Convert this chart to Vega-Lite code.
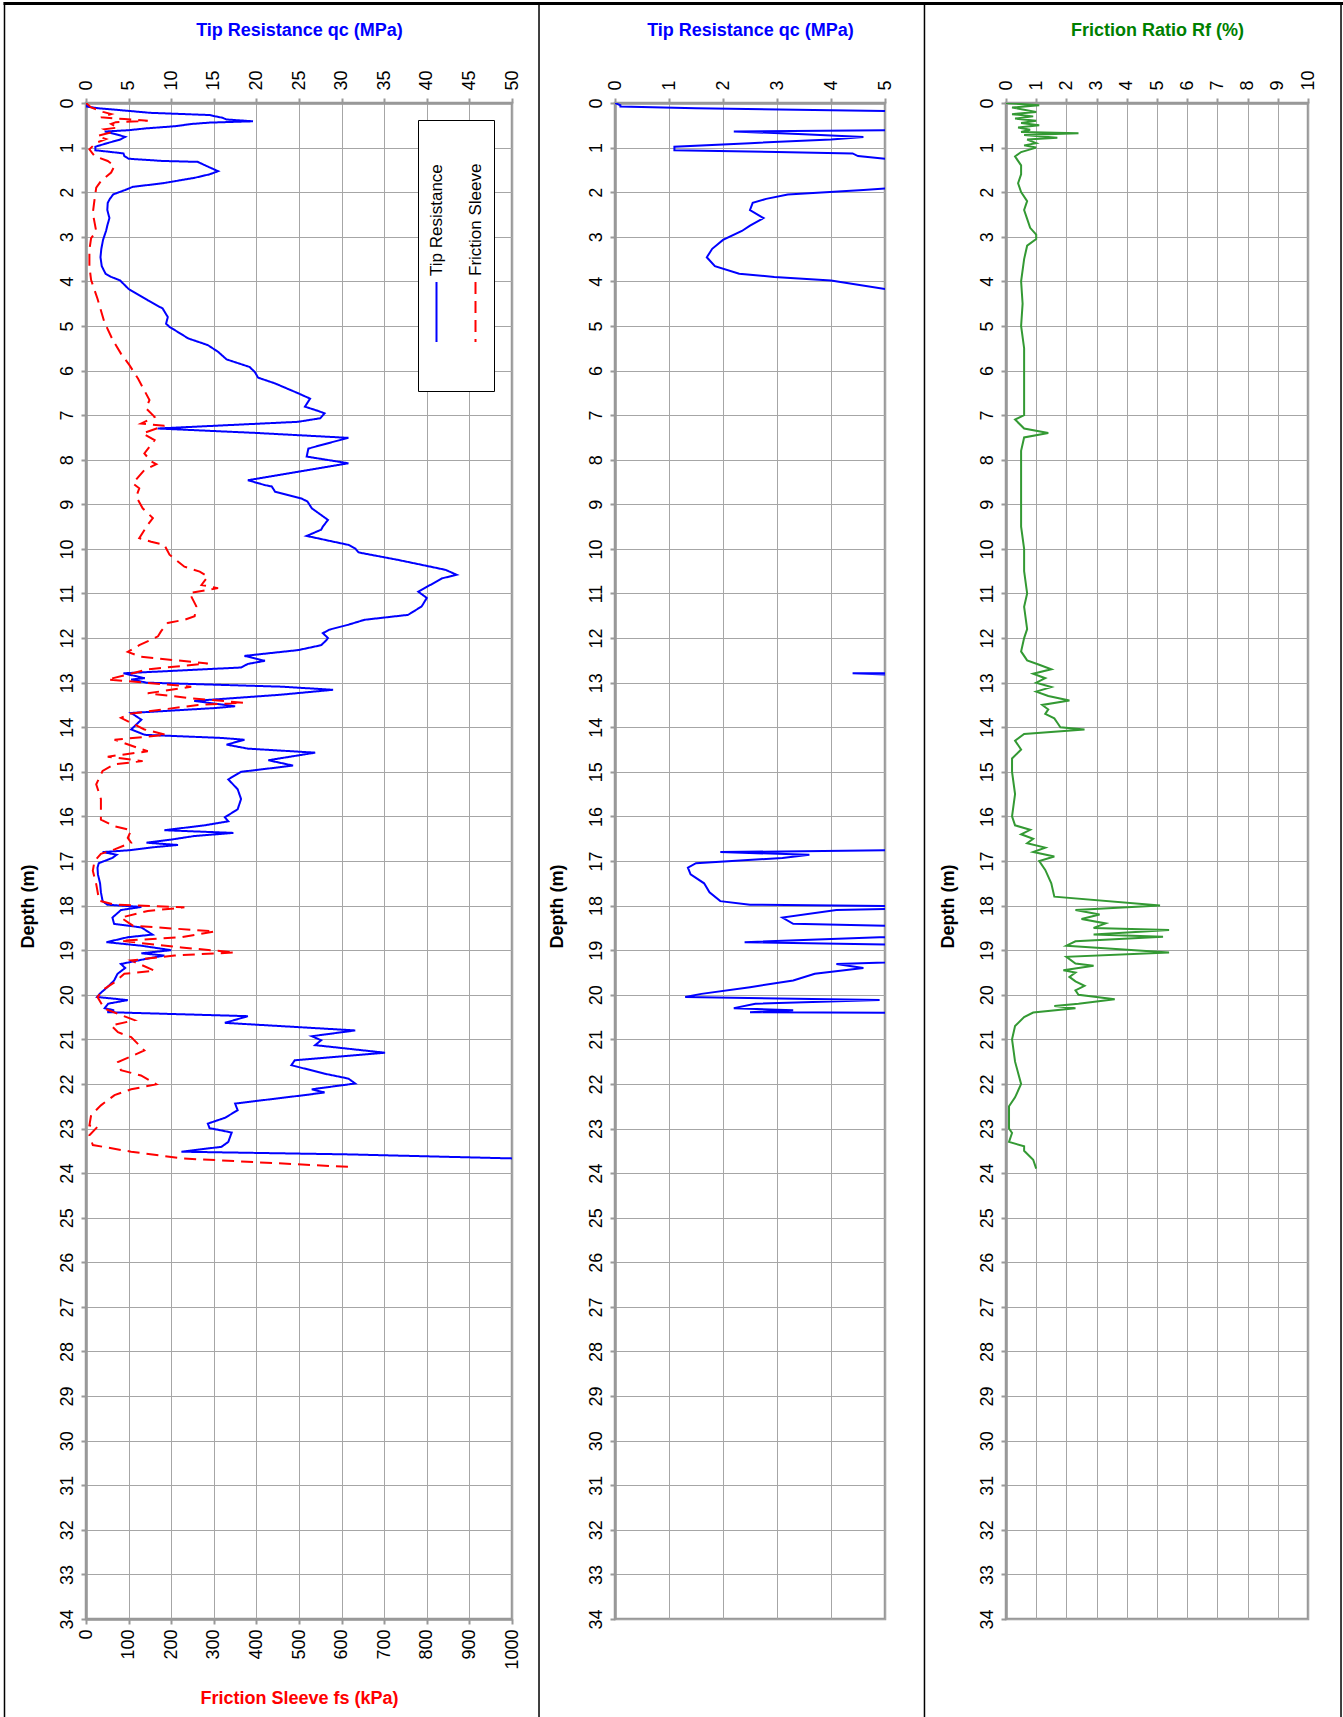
{
"$schema": "https://vega.github.io/schema/vega-lite/v6.json",
"padding": 0,
"background": "white",
"config": {
  "font": "Liberation Sans",
  "view": {"stroke": "#999999", "strokeWidth": 2.5},
  "axis": {
    "grid": true, "gridColor": "#a6a6a6", "gridWidth": 1,
    "domainColor": "#999999", "domainWidth": 2.5,
    "tickColor": "#999999", "tickWidth": 2, "tickSize": 5,
    "labelFont": "Liberation Sans", "labelFontSize": 18, "labelColor": "#000000", "labelAngle": -90, "labelPadding": 5, "labelOverlap": false, "labelFlush": false,
    "titleFont": "Liberation Sans", "titleFontSize": 18, "titleFontWeight": "bold"
  }
},
"datasets": {
  "qc": [
    {"depth":0,"qc":0},{"depth":0.05,"qc":0.1},{"depth":0.08,"qc":0.1},{"depth":0.12,"qc":1.5},{"depth":0.16,"qc":4.0},{"depth":0.22,"qc":7.5},{"depth":0.27,"qc":14.5},{"depth":0.3,"qc":15.2},{"depth":0.33,"qc":16.0},{"depth":0.37,"qc":16.5},{"depth":0.41,"qc":19.6},{"depth":0.44,"qc":14.5},{"depth":0.47,"qc":12.4},{"depth":0.52,"qc":10.5},{"depth":0.57,"qc":7.0},{"depth":0.61,"qc":5.0},{"depth":0.64,"qc":2.2},{"depth":0.7,"qc":3.5},{"depth":0.76,"qc":4.6},{"depth":0.82,"qc":4.0},{"depth":0.9,"qc":2.5},{"depth":0.98,"qc":1.1},{"depth":1.06,"qc":1.1},{"depth":1.1,"qc":3.0},{"depth":1.13,"qc":4.4},{"depth":1.19,"qc":4.5},{"depth":1.25,"qc":5.0},{"depth":1.3,"qc":9.0},{"depth":1.32,"qc":13.1},{"depth":1.4,"qc":14.0},{"depth":1.53,"qc":15.5},{"depth":1.6,"qc":14.5},{"depth":1.68,"qc":12.7},{"depth":1.8,"qc":9.0},{"depth":1.88,"qc":5.5},{"depth":1.95,"qc":4.6},{"depth":2.05,"qc":3.2},{"depth":2.15,"qc":2.8},{"depth":2.24,"qc":2.55},{"depth":2.4,"qc":2.5},{"depth":2.58,"qc":2.75},{"depth":2.75,"qc":2.5},{"depth":2.87,"qc":2.35},{"depth":3.07,"qc":2.0},{"depth":3.27,"qc":1.8},{"depth":3.46,"qc":1.7},{"depth":3.66,"qc":1.85},{"depth":3.83,"qc":2.3},{"depth":3.9,"qc":2.95},{"depth":3.98,"qc":4.0},{"depth":4.17,"qc":5.0},{"depth":4.43,"qc":7.3},{"depth":4.61,"qc":9.0},{"depth":4.8,"qc":9.6},{"depth":4.95,"qc":9.4},{"depth":5.02,"qc":9.8},{"depth":5.28,"qc":12.0},{"depth":5.43,"qc":14.3},{"depth":5.58,"qc":15.5},{"depth":5.75,"qc":16.5},{"depth":5.92,"qc":19.2},{"depth":6.03,"qc":19.8},{"depth":6.16,"qc":20.2},{"depth":6.29,"qc":22.2},{"depth":6.51,"qc":24.9},{"depth":6.63,"qc":26.3},{"depth":6.72,"qc":26.0},{"depth":6.81,"qc":25.7},{"depth":6.91,"qc":27.3},{"depth":6.96,"qc":28.0},{"depth":7.07,"qc":27.5},{"depth":7.15,"qc":24.9},{"depth":7.3,"qc":8.4},{"depth":7.4,"qc":20.0},{"depth":7.51,"qc":30.8},{"depth":7.6,"qc":29.0},{"depth":7.75,"qc":26.1},{"depth":7.93,"qc":25.9},{"depth":8.08,"qc":30.8},{"depth":8.17,"qc":28.0},{"depth":8.27,"qc":24.9},{"depth":8.46,"qc":19.0},{"depth":8.57,"qc":21.0},{"depth":8.6,"qc":21.8},{"depth":8.72,"qc":22.2},{"depth":8.87,"qc":25.3},{"depth":8.94,"qc":26.0},{"depth":9.09,"qc":26.5},{"depth":9.35,"qc":28.4},{"depth":9.5,"qc":27.8},{"depth":9.57,"qc":27.6},{"depth":9.71,"qc":25.9},{"depth":9.91,"qc":30.8},{"depth":9.99,"qc":31.6},{"depth":10.08,"qc":32.0},{"depth":10.25,"qc":36.7},{"depth":10.47,"qc":42.2},{"depth":10.58,"qc":43.5},{"depth":10.66,"qc":41.8},{"depth":10.96,"qc":39.0},{"depth":11.1,"qc":40.0},{"depth":11.29,"qc":39.4},{"depth":11.48,"qc":37.8},{"depth":11.59,"qc":32.7},{"depth":11.7,"qc":30.8},{"depth":11.81,"qc":28.6},{"depth":11.89,"qc":27.8},{"depth":12.0,"qc":28.4},{"depth":12.05,"qc":28.2},{"depth":12.16,"qc":27.6},{"depth":12.27,"qc":24.9},{"depth":12.4,"qc":18.6},{"depth":12.51,"qc":21.0},{"depth":12.58,"qc":19.0},{"depth":12.66,"qc":18.2},{"depth":12.79,"qc":4.4},{"depth":12.9,"qc":6.9},{"depth":12.93,"qc":5.3},{"depth":13.0,"qc":7.1},{"depth":13.09,"qc":22.9},{"depth":13.16,"qc":29.0},{"depth":13.27,"qc":22.9},{"depth":13.41,"qc":12.7},{"depth":13.53,"qc":17.5},{"depth":13.57,"qc":15.1},{"depth":13.68,"qc":5.3},{"depth":13.83,"qc":6.5},{"depth":14.05,"qc":5.3},{"depth":14.17,"qc":6.9},{"depth":14.24,"qc":15.9},{"depth":14.28,"qc":18.6},{"depth":14.39,"qc":16.5},{"depth":14.48,"qc":19.0},{"depth":14.57,"qc":26.9},{"depth":14.74,"qc":21.4},{"depth":14.86,"qc":24.3},{"depth":15.0,"qc":18.2},{"depth":15.17,"qc":16.7},{"depth":15.39,"qc":17.8},{"depth":15.61,"qc":18.2},{"depth":15.84,"qc":17.8},{"depth":16.02,"qc":16.3},{"depth":16.11,"qc":16.7},{"depth":16.2,"qc":13.9},{"depth":16.31,"qc":9.2},{"depth":16.37,"qc":17.3},{"depth":16.44,"qc":12.7},{"depth":16.52,"qc":10.0},{"depth":16.59,"qc":7.1},{"depth":16.64,"qc":10.8},{"depth":16.69,"qc":8.0},{"depth":16.76,"qc":5.0},{"depth":16.8,"qc":1.95},{"depth":16.86,"qc":3.6},{"depth":16.93,"qc":3.1},{"depth":17.05,"qc":1.5},{"depth":17.15,"qc":1.35},{"depth":17.3,"qc":1.4},{"depth":17.5,"qc":1.65},{"depth":17.7,"qc":1.75},{"depth":17.9,"qc":1.95},{"depth":17.98,"qc":2.5},{"depth":18.03,"qc":6.5},{"depth":18.1,"qc":4.1},{"depth":18.27,"qc":3.1},{"depth":18.41,"qc":3.3},{"depth":18.49,"qc":6.5},{"depth":18.65,"qc":7.8},{"depth":18.71,"qc":4.9},{"depth":18.82,"qc":2.4},{"depth":18.9,"qc":6.5},{"depth":19.0,"qc":10.0},{"depth":19.07,"qc":6.5},{"depth":19.12,"qc":9.2},{"depth":19.2,"qc":6.9},{"depth":19.31,"qc":4.1},{"depth":19.4,"qc":4.6},{"depth":19.53,"qc":3.7},{"depth":19.68,"qc":3.3},{"depth":19.83,"qc":2.5},{"depth":19.98,"qc":1.6},{"depth":20.05,"qc":1.3},{"depth":20.12,"qc":4.9},{"depth":20.2,"qc":2.6},{"depth":20.3,"qc":2.2},{"depth":20.35,"qc":3.3},{"depth":20.39,"qc":2.5},{"depth":20.48,"qc":19.0},{"depth":20.63,"qc":16.3},{"depth":20.8,"qc":31.6},{"depth":20.93,"qc":26.5},{"depth":21.02,"qc":27.6},{"depth":21.13,"qc":26.9},{"depth":21.3,"qc":35.1},{"depth":21.47,"qc":24.5},{"depth":21.58,"qc":24.1},{"depth":21.77,"qc":28.0},{"depth":21.88,"qc":30.8},{"depth":21.99,"qc":31.6},{"depth":22.12,"qc":26.5},{"depth":22.19,"qc":28.0},{"depth":22.24,"qc":26.1},{"depth":22.44,"qc":17.5},{"depth":22.59,"qc":17.8},{"depth":22.76,"qc":16.3},{"depth":22.89,"qc":14.3},{"depth":22.99,"qc":14.5},{"depth":23.09,"qc":17.1},{"depth":23.3,"qc":16.7},{"depth":23.41,"qc":15.9},{"depth":23.52,"qc":11.2},{"depth":23.58,"qc":30.8},{"depth":23.67,"qc":50.0},{"depth":23.72,"qc":55.0}
  ],
  "fs": [
    {"depth":0,"fs":0},{"depth":0.1,"fs":12},{"depth":0.2,"fs":40},{"depth":0.25,"fs":59},{"depth":0.32,"fs":35},{"depth":0.36,"fs":90},{"depth":0.4,"fs":145},{"depth":0.43,"fs":70},{"depth":0.47,"fs":59},{"depth":0.55,"fs":75},{"depth":0.59,"fs":43},{"depth":0.66,"fs":59},{"depth":0.74,"fs":27},{"depth":0.81,"fs":47},{"depth":0.89,"fs":24},{"depth":1.04,"fs":8},{"depth":1.19,"fs":20},{"depth":1.3,"fs":51},{"depth":1.41,"fs":67},{"depth":1.56,"fs":59},{"depth":1.75,"fs":35},{"depth":1.9,"fs":24},{"depth":2.17,"fs":20},{"depth":2.47,"fs":16},{"depth":2.88,"fs":24},{"depth":3.03,"fs":12},{"depth":3.29,"fs":8},{"depth":3.67,"fs":8},{"depth":3.97,"fs":12},{"depth":4.39,"fs":27},{"depth":4.91,"fs":43},{"depth":5.32,"fs":63},{"depth":5.62,"fs":82},{"depth":5.88,"fs":102},{"depth":6.18,"fs":122},{"depth":6.66,"fs":149},{"depth":6.85,"fs":141},{"depth":7.04,"fs":161},{"depth":7.19,"fs":129},{"depth":7.24,"fs":184},{"depth":7.41,"fs":133},{"depth":7.56,"fs":161},{"depth":7.86,"fs":137},{"depth":8.04,"fs":153},{"depth":8.1,"fs":165},{"depth":8.23,"fs":137},{"depth":8.53,"fs":110},{"depth":8.64,"fs":125},{"depth":8.83,"fs":118},{"depth":9.09,"fs":133},{"depth":9.31,"fs":157},{"depth":9.46,"fs":145},{"depth":9.76,"fs":125},{"depth":9.84,"fs":153},{"depth":9.91,"fs":184},{"depth":10.13,"fs":196},{"depth":10.4,"fs":231},{"depth":10.51,"fs":267},{"depth":10.62,"fs":286},{"depth":10.81,"fs":271},{"depth":10.88,"fs":310},{"depth":10.99,"fs":243},{"depth":11.29,"fs":259},{"depth":11.51,"fs":255},{"depth":11.59,"fs":231},{"depth":11.66,"fs":192},{"depth":11.85,"fs":176},{"depth":11.96,"fs":169},{"depth":12.05,"fs":150},{"depth":12.16,"fs":125},{"depth":12.31,"fs":98},{"depth":12.42,"fs":129},{"depth":12.57,"fs":286},{"depth":12.7,"fs":145},{"depth":12.93,"fs":51},{"depth":13.09,"fs":247},{"depth":13.24,"fs":145},{"depth":13.35,"fs":247},{"depth":13.45,"fs":369},{"depth":13.5,"fs":263},{"depth":13.7,"fs":102},{"depth":13.79,"fs":82},{"depth":14.05,"fs":137},{"depth":14.17,"fs":188},{"depth":14.28,"fs":67},{"depth":14.54,"fs":145},{"depth":14.66,"fs":51},{"depth":14.76,"fs":133},{"depth":14.83,"fs":67},{"depth":14.98,"fs":39},{"depth":15.28,"fs":24},{"depth":15.61,"fs":35},{"depth":15.98,"fs":35},{"depth":16.07,"fs":35},{"depth":16.22,"fs":67},{"depth":16.31,"fs":106},{"depth":16.48,"fs":98},{"depth":16.59,"fs":106},{"depth":16.74,"fs":67},{"depth":16.84,"fs":35},{"depth":17.0,"fs":20},{"depth":17.22,"fs":16},{"depth":17.52,"fs":24},{"depth":17.89,"fs":31},{"depth":17.98,"fs":67},{"depth":18.04,"fs":231},{"depth":18.12,"fs":145},{"depth":18.27,"fs":82},{"depth":18.45,"fs":110},{"depth":18.58,"fs":302},{"depth":18.71,"fs":224},{"depth":18.79,"fs":82},{"depth":18.94,"fs":224},{"depth":19.05,"fs":349},{"depth":19.12,"fs":208},{"depth":19.23,"fs":106},{"depth":19.46,"fs":161},{"depth":19.53,"fs":90},{"depth":19.72,"fs":67},{"depth":19.87,"fs":43},{"depth":20.05,"fs":27},{"depth":20.31,"fs":43},{"depth":20.57,"fs":114},{"depth":20.69,"fs":59},{"depth":20.84,"fs":75},{"depth":20.95,"fs":106},{"depth":21.25,"fs":137},{"depth":21.51,"fs":75},{"depth":21.69,"fs":82},{"depth":21.81,"fs":129},{"depth":22.01,"fs":165},{"depth":22.12,"fs":106},{"depth":22.25,"fs":67},{"depth":22.48,"fs":35},{"depth":22.7,"fs":12},{"depth":22.93,"fs":8},{"depth":22.96,"fs":27},{"depth":23.15,"fs":8},{"depth":23.37,"fs":16},{"depth":23.52,"fs":106},{"depth":23.67,"fs":224},{"depth":23.86,"fs":616}
  ],
  "rf": [
    {"depth":0,"rf":0},{"depth":0.05,"rf":1.1},{"depth":0.1,"rf":0.2},{"depth":0.2,"rf":1.0},{"depth":0.25,"rf":0.2},{"depth":0.3,"rf":0.9},{"depth":0.35,"rf":0.3},{"depth":0.4,"rf":1.0},{"depth":0.45,"rf":0.5},{"depth":0.5,"rf":1.1},{"depth":0.55,"rf":0.4},{"depth":0.6,"rf":0.8},{"depth":0.65,"rf":0.5},{"depth":0.68,"rf":2.4},{"depth":0.72,"rf":0.6},{"depth":0.78,"rf":1.7},{"depth":0.82,"rf":0.7},{"depth":0.9,"rf":1.0},{"depth":0.95,"rf":0.6},{"depth":1.0,"rf":1.0},{"depth":1.1,"rf":0.5},{"depth":1.2,"rf":0.3},{"depth":1.4,"rf":0.5},{"depth":1.6,"rf":0.5},{"depth":1.8,"rf":0.4},{"depth":2.0,"rf":0.5},{"depth":2.2,"rf":0.7},{"depth":2.4,"rf":0.6},{"depth":2.6,"rf":0.7},{"depth":2.8,"rf":0.8},{"depth":2.95,"rf":1.0},{"depth":3.05,"rf":1.0},{"depth":3.2,"rf":0.7},{"depth":3.5,"rf":0.6},{"depth":4.0,"rf":0.5},{"depth":4.5,"rf":0.55},{"depth":5.0,"rf":0.5},{"depth":5.5,"rf":0.6},{"depth":6.0,"rf":0.6},{"depth":6.5,"rf":0.6},{"depth":7.0,"rf":0.6},{"depth":7.1,"rf":0.3},{"depth":7.3,"rf":0.6},{"depth":7.4,"rf":1.4},{"depth":7.5,"rf":0.6},{"depth":7.8,"rf":0.5},{"depth":8.5,"rf":0.5},{"depth":9.0,"rf":0.5},{"depth":9.5,"rf":0.5},{"depth":10.0,"rf":0.6},{"depth":10.5,"rf":0.6},{"depth":11.0,"rf":0.7},{"depth":11.3,"rf":0.6},{"depth":11.8,"rf":0.7},{"depth":12.0,"rf":0.6},{"depth":12.3,"rf":0.5},{"depth":12.5,"rf":0.7},{"depth":12.6,"rf":1.1},{"depth":12.7,"rf":1.5},{"depth":12.8,"rf":0.9},{"depth":12.9,"rf":1.3},{"depth":13.0,"rf":1.0},{"depth":13.1,"rf":1.5},{"depth":13.2,"rf":1.0},{"depth":13.3,"rf":1.4},{"depth":13.4,"rf":2.1},{"depth":13.5,"rf":1.2},{"depth":13.6,"rf":1.4},{"depth":13.7,"rf":1.3},{"depth":13.8,"rf":1.6},{"depth":13.9,"rf":1.7},{"depth":14.0,"rf":1.8},{"depth":14.05,"rf":2.6},{"depth":14.15,"rf":0.6},{"depth":14.3,"rf":0.3},{"depth":14.5,"rf":0.5},{"depth":14.7,"rf":0.2},{"depth":15.0,"rf":0.2},{"depth":15.5,"rf":0.3},{"depth":16.0,"rf":0.2},{"depth":16.2,"rf":0.3},{"depth":16.3,"rf":0.8},{"depth":16.4,"rf":0.5},{"depth":16.5,"rf":0.9},{"depth":16.6,"rf":0.7},{"depth":16.7,"rf":1.3},{"depth":16.8,"rf":0.9},{"depth":16.9,"rf":1.6},{"depth":17.0,"rf":1.1},{"depth":17.2,"rf":1.3},{"depth":17.5,"rf":1.5},{"depth":17.8,"rf":1.6},{"depth":18.0,"rf":5.1},{"depth":18.1,"rf":2.3},{"depth":18.2,"rf":3.1},{"depth":18.3,"rf":2.5},{"depth":18.4,"rf":3.3},{"depth":18.5,"rf":2.9},{"depth":18.55,"rf":5.4},{"depth":18.65,"rf":2.9},{"depth":18.7,"rf":5.2},{"depth":18.8,"rf":2.3},{"depth":18.9,"rf":2.0},{"depth":19.05,"rf":5.4},{"depth":19.15,"rf":2.0},{"depth":19.3,"rf":2.3},{"depth":19.35,"rf":2.9},{"depth":19.45,"rf":1.9},{"depth":19.5,"rf":2.3},{"depth":19.6,"rf":2.1},{"depth":19.7,"rf":2.3},{"depth":19.8,"rf":2.6},{"depth":19.9,"rf":2.3},{"depth":20.0,"rf":2.4},{"depth":20.1,"rf":3.6},{"depth":20.2,"rf":2.4},{"depth":20.25,"rf":1.6},{"depth":20.3,"rf":2.3},{"depth":20.4,"rf":0.9},{"depth":20.5,"rf":0.6},{"depth":20.7,"rf":0.3},{"depth":21.0,"rf":0.2},{"depth":21.5,"rf":0.3},{"depth":22.0,"rf":0.5},{"depth":22.3,"rf":0.3},{"depth":22.5,"rf":0.1},{"depth":22.7,"rf":0.1},{"depth":23.0,"rf":0.1},{"depth":23.1,"rf":0.2},{"depth":23.3,"rf":0.1},{"depth":23.4,"rf":0.6},{"depth":23.5,"rf":0.6},{"depth":23.7,"rf":0.9},{"depth":23.9,"rf":1.0}
  ]
},
"bounds": "flush",
"spacing": 103,
"hconcat": [
  {
    "width": 426, "height": 1516,
    "layer": [
      {
        "data": {"name": "qc"},
        "mark": {"type": "line", "strokeWidth": 2, "clip": true},
        "encoding": {
          "y": {"field": "depth", "type": "quantitative", "scale": {"domain": [0, 34], "reverse": true, "nice": false, "zero": false},
                "axis": {"values": [0,1,2,3,4,5,6,7,8,9,10,11,12,13,14,15,16,17,18,19,20,21,22,23,24,25,26,27,28,29,30,31,32,33,34], "title": "Depth (m)", "titleColor": "#000000", "titlePadding": 21, "titleY": 803}},
          "x": {"field": "qc", "type": "quantitative", "scale": {"domain": [0, 50], "nice": false},
                "axis": {"orient": "top", "values": [0,5,10,15,20,25,30,35,40,45,50], "labelPadding": 8, "title": "Tip Resistance qc (MPa)", "titleColor": "#0000ff", "titlePadding": 30}},
          "order": {"field": "depth", "type": "quantitative"},
          "color": {"datum": "Tip Resistance", "type": "nominal", "scale": {"domain": ["Tip Resistance", "Friction Sleeve"], "range": ["#0000ff", "#ff0000"]},
                    "legend": {"orient": "none", "legendX": 332, "legendY": 17, "title": " ", "titleOrient": "bottom", "titleFontSize": 15, "titlePadding": 20, "direction": "horizontal", "strokeColor": "#000000", "fillColor": "#ffffff", "padding": 10, "columnPadding": 21, "symbolType": "M0,-1L0,1", "symbolSize": 3600, "symbolStrokeWidth": 2, "labelFont": "Liberation Sans", "labelFontSize": 17, "labelColor": "#000000", "labelLimit": 0,
                               "encoding": {"symbols": {"x": {"value": 8.5}, "y": {"value": 182}}, "labels": {"angle": {"value": -90}, "align": {"value": "left"}, "baseline": {"value": "middle"}, "x": {"value": 8.5}, "y": {"value": 146}}}}},
          "strokeDash": {"datum": "Tip Resistance", "type": "nominal", "scale": {"domain": ["Tip Resistance", "Friction Sleeve"], "range": [[1, 0], [12, 7]]},
                    "legend": {"orient": "none", "legendX": 332, "legendY": 17, "title": " ", "titleOrient": "bottom", "titleFontSize": 15, "titlePadding": 20, "direction": "horizontal", "strokeColor": "#000000", "fillColor": "#ffffff", "padding": 10, "columnPadding": 21, "symbolType": "M0,-1L0,1", "symbolSize": 3600, "symbolStrokeWidth": 2, "labelFont": "Liberation Sans", "labelFontSize": 17, "labelColor": "#000000", "labelLimit": 0,
                               "encoding": {"symbols": {"x": {"value": 8.5}, "y": {"value": 182}}, "labels": {"angle": {"value": -90}, "align": {"value": "left"}, "baseline": {"value": "middle"}, "x": {"value": 8.5}, "y": {"value": 146}}}}}
        }
      },
      {
        "data": {"name": "fs"},
        "mark": {"type": "line", "strokeWidth": 2, "clip": true},
        "encoding": {
          "y": {"field": "depth", "type": "quantitative", "scale": {"domain": [0, 34], "reverse": true, "nice": false, "zero": false},
                "axis": {"values": [0,1,2,3,4,5,6,7,8,9,10,11,12,13,14,15,16,17,18,19,20,21,22,23,24,25,26,27,28,29,30,31,32,33,34], "title": "Depth (m)", "titleColor": "#000000", "titlePadding": 21, "titleY": 803}},
          "x": {"field": "fs", "type": "quantitative", "scale": {"domain": [0, 1000], "nice": false},
                "axis": {"orient": "bottom", "grid": false, "format": "d", "values": [0,100,200,300,400,500,600,700,800,900,1000], "title": "Friction Sleeve fs (kPa)", "titleColor": "#ff0000", "titlePadding": 20}},
          "order": {"field": "depth", "type": "quantitative"},
          "color": {"datum": "Friction Sleeve", "type": "nominal"},
          "strokeDash": {"datum": "Friction Sleeve", "type": "nominal"}
        }
      },
      {
        "data": {"values": [{}]},
        "mark": {"type": "rule", "clip": false, "color": "#000000", "strokeWidth": 1.5},
        "encoding": {
          "x": {"datum": -9.566, "type": "quantitative", "scale": {"domain": [0, 50], "nice": false}, "axis": null},
          "y": {"datum": -2.265, "type": "quantitative", "scale": {"domain": [0, 34], "reverse": true, "nice": false, "zero": false},
                "axis": {"values": [0,1,2,3,4,5,6,7,8,9,10,11,12,13,14,15,16,17,18,19,20,21,22,23,24,25,26,27,28,29,30,31,32,33,34], "title": "Depth (m)", "titleColor": "#000000", "titlePadding": 21, "titleY": 803}},
          "y2": {"datum": 36.24}
        }
      },
      {
        "data": {"values": [{}]},
        "mark": {"type": "rule", "clip": false, "color": "#000000", "strokeWidth": 1.5},
        "encoding": {
          "x": {"datum": 53.17, "type": "quantitative", "scale": {"domain": [0, 50], "nice": false}, "axis": null},
          "y": {"datum": -2.265, "type": "quantitative", "scale": {"domain": [0, 34], "reverse": true, "nice": false, "zero": false},
                "axis": {"values": [0,1,2,3,4,5,6,7,8,9,10,11,12,13,14,15,16,17,18,19,20,21,22,23,24,25,26,27,28,29,30,31,32,33,34], "title": "Depth (m)", "titleColor": "#000000", "titlePadding": 21, "titleY": 803}},
          "y2": {"datum": 36.24}
        }
      },
      {
        "data": {"values": [{}]},
        "mark": {"type": "rule", "clip": false, "color": "#000000", "strokeWidth": 3},
        "encoding": {
          "x": {"datum": -9.68, "type": "quantitative", "scale": {"domain": [0, 50], "nice": false}, "axis": null},
          "x2": {"datum": 147.6},
          "y": {"datum": -2.231, "type": "quantitative", "scale": {"domain": [0, 34], "reverse": true, "nice": false, "zero": false},
                "axis": {"values": [0,1,2,3,4,5,6,7,8,9,10,11,12,13,14,15,16,17,18,19,20,21,22,23,24,25,26,27,28,29,30,31,32,33,34], "title": "Depth (m)", "titleColor": "#000000", "titlePadding": 21, "titleY": 803}}
        }
      }
    ],
    "resolve": {"scale": {"x": "independent"}}
  },
  {
    "bounds": "flush",
    "spacing": 121,
    "hconcat": [
      {
        "width": 270, "height": 1516,
        "layer": [
          {
            "data": {"name": "qc"},
            "mark": {"type": "line", "strokeWidth": 2, "clip": true, "color": "#0000ff"},
            "encoding": {
              "y": {"field": "depth", "type": "quantitative", "scale": {"domain": [0, 34], "reverse": true, "nice": false, "zero": false},
                    "axis": {"values": [0,1,2,3,4,5,6,7,8,9,10,11,12,13,14,15,16,17,18,19,20,21,22,23,24,25,26,27,28,29,30,31,32,33,34], "title": "Depth (m)", "titleColor": "#000000", "titlePadding": 21, "titleY": 803}},
              "x": {"field": "qc", "type": "quantitative", "scale": {"domain": [0, 5], "nice": false},
                    "axis": {"orient": "top", "values": [0,1,2,3,4,5], "labelPadding": 8, "title": "Tip Resistance qc (MPa)", "titleColor": "#0000ff", "titlePadding": 40}},
              "order": {"field": "depth", "type": "quantitative"}
            }
          },
          {
            "data": {"values": [{}]},
            "mark": {"type": "rule", "clip": false, "color": "#000000", "strokeWidth": 1.5},
            "encoding": {
              "x": {"datum": 5.731, "type": "quantitative", "scale": {"domain": [0, 5], "nice": false},
                    "axis": {"orient": "top", "values": [0,1,2,3,4,5], "labelPadding": 8, "title": "Tip Resistance qc (MPa)", "titleColor": "#0000ff", "titlePadding": 40}},
              "y": {"datum": -2.265, "type": "quantitative", "scale": {"domain": [0, 34], "reverse": true, "nice": false, "zero": false},
                    "axis": {"values": [0,1,2,3,4,5,6,7,8,9,10,11,12,13,14,15,16,17,18,19,20,21,22,23,24,25,26,27,28,29,30,31,32,33,34], "title": "Depth (m)", "titleColor": "#000000", "titlePadding": 21, "titleY": 803}},
              "y2": {"datum": 36.24}
            }
          }
        ]
      },
      {
        "width": 302, "height": 1516,
        "layer": [
          {
            "data": {"name": "rf"},
            "mark": {"type": "line", "strokeWidth": 2, "clip": true, "color": "#339933"},
            "encoding": {
              "y": {"field": "depth", "type": "quantitative", "scale": {"domain": [0, 34], "reverse": true, "nice": false, "zero": false},
                    "axis": {"values": [0,1,2,3,4,5,6,7,8,9,10,11,12,13,14,15,16,17,18,19,20,21,22,23,24,25,26,27,28,29,30,31,32,33,34], "title": "Depth (m)", "titleColor": "#000000", "titlePadding": 21, "titleY": 803}},
              "x": {"field": "rf", "type": "quantitative", "scale": {"domain": [0, 10], "nice": false},
                    "axis": {"orient": "top", "values": [0,1,2,3,4,5,6,7,8,9,10], "labelPadding": 8, "title": "Friction Ratio Rf (%)", "titleColor": "#008000", "titlePadding": 30}},
              "order": {"field": "depth", "type": "quantitative"}
            }
          },
          {
            "data": {"values": [{}]},
            "mark": {"type": "rule", "clip": false, "color": "#000000", "strokeWidth": 1.5},
            "encoding": {
              "x": {"datum": 11.093, "type": "quantitative", "scale": {"domain": [0, 10], "nice": false},
                    "axis": {"orient": "top", "values": [0,1,2,3,4,5,6,7,8,9,10], "labelPadding": 8, "title": "Friction Ratio Rf (%)", "titleColor": "#008000", "titlePadding": 30}},
              "y": {"datum": -2.265, "type": "quantitative", "scale": {"domain": [0, 34], "reverse": true, "nice": false, "zero": false},
                    "axis": {"values": [0,1,2,3,4,5,6,7,8,9,10,11,12,13,14,15,16,17,18,19,20,21,22,23,24,25,26,27,28,29,30,31,32,33,34], "title": "Depth (m)", "titleColor": "#000000", "titlePadding": 21, "titleY": 803}},
              "y2": {"datum": 36.24}
            }
          }
        ]
      }
    ]
  }
]
}
